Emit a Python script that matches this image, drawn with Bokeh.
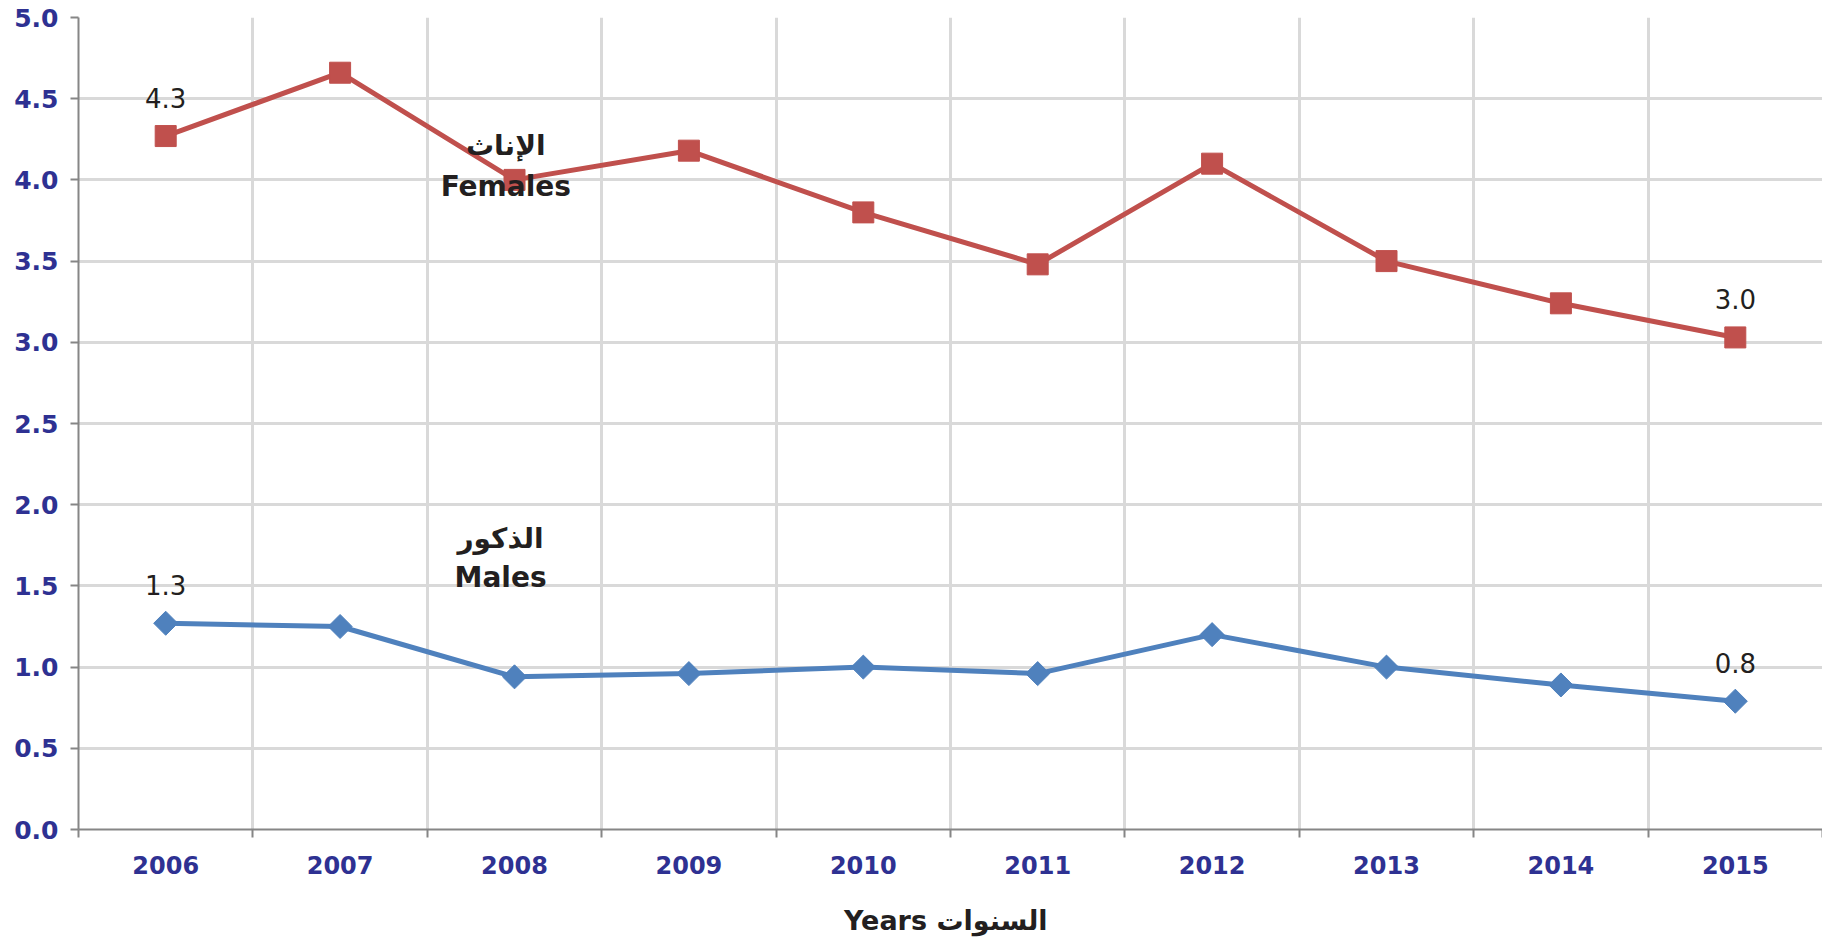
import math
from bokeh.plotting import figure
from bokeh.models import FixedTicker, Range1d, NumeralTickFormatter, ColumnDataSource
from bokeh.core.properties import value
from bokeh.embed import file_html
from bokeh.resources import INLINE

years = [2006, 2007, 2008, 2009, 2010, 2011, 2012, 2013, 2014, 2015]
females = [4.27, 4.66, 4.00, 4.18, 3.80, 3.48, 4.10, 3.50, 3.24, 3.03]
males = [1.27, 1.25, 0.94, 0.96, 1.00, 0.96, 1.20, 1.00, 0.89, 0.79]
y_ticks = [0.0, 0.5, 1.0, 1.5, 2.0, 2.5, 3.0, 3.5, 4.0, 4.5, 5.0]
female_label_ar = "الإناث"
female_label_en = "Females"
male_label_ar = "الذكور"
male_label_en = "Males"
x_title = "Years  السنوات"

FONT = "DejaVu Sans"
BLUE_TXT = "#2E3192"
RED = "#C0504D"
BLUE = "#4F81BD"
GRID = "#D9D9D9"
AXIS = "#868686"
TXT = "#231F20"

p = figure(width=1822, height=938, output_backend="svg", toolbar_location=None,
           x_range=Range1d(years[0] - 0.5, years[-1] + 0.5), y_range=Range1d(0, 5),
           min_border_left=78, min_border_right=0, min_border_top=17, min_border_bottom=106)
p.outline_line_color = None
p.background_fill_color = "white"
p.border_fill_color = "white"

bounds = [y - 0.5 for y in years] + [years[-1] + 0.5]
p.xaxis.ticker = FixedTicker(ticks=years, minor_ticks=bounds)
p.yaxis.ticker = FixedTicker(ticks=y_ticks)
p.yaxis.formatter = NumeralTickFormatter(format="0.0")

p.xgrid.grid_line_color = None
p.xgrid.minor_grid_line_color = GRID
p.xgrid.minor_grid_line_width = 3
p.ygrid.grid_line_color = GRID
p.ygrid.grid_line_width = 3

for ax in (p.xaxis, p.yaxis):
    ax.axis_line_color = AXIS
    ax.axis_line_width = 2
    ax.major_tick_line_color = AXIS
    ax.major_tick_line_width = 2
    ax.minor_tick_line_color = AXIS
    ax.minor_tick_line_width = 2
    ax.major_label_text_font = FONT
    ax.major_label_text_font_style = "bold"
    ax.major_label_text_color = BLUE_TXT

p.xaxis.major_label_text_font_size = "24px"
p.yaxis.major_label_text_font_size = "25px"

p.xaxis.major_tick_out = 0
p.xaxis.major_tick_in = 0
p.xaxis.minor_tick_out = 8
p.xaxis.minor_tick_in = 0
p.xaxis.major_label_standoff = 18
p.xaxis.axis_label = x_title
p.xaxis.axis_label_text_font = FONT
p.xaxis.axis_label_text_font_style = "bold"
p.xaxis.axis_label_text_font_size = "27px"
p.xaxis.axis_label_text_color = TXT
p.xaxis.axis_label_standoff = 28

p.yaxis.major_tick_out = 8
p.yaxis.major_tick_in = 0
p.yaxis.minor_tick_out = 0
p.yaxis.minor_tick_in = 0
p.yaxis.major_label_standoff = 12

src = ColumnDataSource(dict(x=years, f=females, m=males))

p.line("x", "f", source=src, line_color=RED, line_width=5)
p.scatter("x", "f", source=src, marker="square", size=21, fill_color=RED, line_color=RED)
p.line("x", "m", source=src, line_color=BLUE, line_width=5)
p.scatter("x", "m", source=src, marker="square", size=17, angle=math.pi / 4,
          fill_color=BLUE, line_color=BLUE)

# data labels for first and last points
lab_idx = [0, len(years) - 1]
lab_src = ColumnDataSource(dict(
    x=[years[i] for i in lab_idx] + [years[i] for i in lab_idx],
    y=[females[i] for i in lab_idx] + [males[i] for i in lab_idx],
    t=[f"{females[i]:.1f}" for i in lab_idx] + [f"{males[i]:.1f}" for i in lab_idx]))
p.text("x", "y", text="t", source=lab_src, y_offset=-38, text_align="center",
       text_baseline="middle", text_font=value(FONT), text_font_size="26px", text_color=TXT)

# series name annotations
p.text(x=[2007.95, 2007.95], y=[4.21, 3.96], text=[female_label_ar, female_label_en],
       text_align="center", text_baseline="middle", text_font=value(FONT),
       text_font_style="bold", text_font_size="28px", text_color=TXT)
p.text(x=[2007.92, 2007.92], y=[1.79, 1.55], text=[male_label_ar, male_label_en],
       text_align="center", text_baseline="middle", text_font=value(FONT),
       text_font_style="bold", text_font_size="28px", text_color=TXT)

open("out.html", "w").write(file_html(p, INLINE))
